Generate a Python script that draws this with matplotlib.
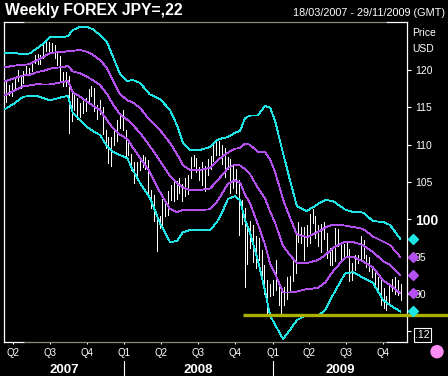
import matplotlib
matplotlib.use('Agg')
import matplotlib.pyplot as plt
import matplotlib.transforms as mtransforms
from matplotlib.patches import Ellipse
import pandas as pd

# weekly bars, one per Friday from 16/03/2007, USD/JPY high and low
bar_start = '2007-03-16'
highs = [118.4, 118.0, 118.2, 118.8, 120.0, 119.2, 119.9, 120.6, 120.3, 121.1,
         122.0, 122.2, 122.0, 123.5, 124.1, 123.8, 123.6, 123.3, 122.5, 121.9,
         119.7, 119.8, 119.2, 117.1, 116.7, 116.2, 115.6, 116.2, 116.3, 117.4,
         117.9, 117.6, 115.3, 116.0, 115.0, 112.0, 111.0, 111.0, 112.1, 113.3,
         114.2, 114.7,
         112.0, 110.4, 108.8, 107.7, 107.7, 108.4, 108.6, 108.3, 107.9, 104.0,
         103.3, 100.0, 100.4, 102.8, 102.6, 103.8, 104.6, 105.3, 105.2, 105.5,
         104.7, 105.6, 106.0, 108.3, 108.6, 108.2, 107.0, 107.7, 107.1, 108.1,
         108.5, 110.4, 110.7, 110.5, 110.0, 109.6, 108.3, 108.1, 107.1, 106.8,
         105.3, 102.6, 101.5, 99.5, 99.8, 99.2, 97.8, 97.5, 95.9, 93.9,
         91.9, 91.3,
         91.9, 94.6, 91.5, 90.5, 90.9, 92.3, 92.4, 94.6, 97.9, 99.7,
         99.0, 99.0, 99.3, 100.7, 101.4, 100.4, 99.2, 99.4, 99.6, 98.2,
         96.2, 96.2, 98.9, 98.7, 96.7, 96.7, 97.0, 96.0, 94.2, 95.2,
         95.3, 97.8, 97.3, 95.2, 95.0, 93.4, 93.0, 92.3, 91.9, 90.8,
         89.8, 91.2, 92.0, 92.3, 91.9, 91.3]
lows = [115.7, 116.6, 116.5, 117.4, 118.5, 117.6, 118.3, 119.4, 119.4, 119.9,
        120.9, 120.8, 120.8, 121.6, 122.6, 122.2, 122.3, 121.6, 120.7, 118.4,
        117.9, 117.8, 111.6, 113.2, 114.6, 113.4, 113.7, 114.2, 114.5, 115.5,
        116.5, 114.5, 113.5, 114.1, 111.5, 109.5, 107.6, 107.2, 110.0, 110.5,
        112.2, 112.0,
        108.5, 108.6, 106.6, 104.9, 105.6, 106.6, 107.0, 106.8, 103.6, 101.5,
        99.8, 95.8, 98.9, 99.3, 100.5, 100.6, 102.6, 102.5, 102.7, 103.5,
        102.5, 103.1, 103.4, 105.5, 107.1, 106.3, 105.3, 104.6, 103.8, 105.9,
        106.7, 107.8, 108.6, 108.6, 107.4, 105.7, 106.8, 103.5, 104.2, 103.6,
        97.9, 99.4, 90.9, 94.0, 96.2, 94.3, 93.5, 94.6, 92.2, 90.0,
        87.1, 89.7,
        89.9, 90.6, 88.6, 87.1, 88.5, 89.3, 90.3, 91.7, 92.8, 97.0,
        96.9, 94.6, 96.5, 96.8, 99.5, 97.5, 96.5, 95.6, 97.4, 94.8,
        93.9, 93.9, 94.5, 96.5, 94.5, 94.8, 95.1, 91.8, 91.9, 93.2,
        94.1, 94.4, 94.8, 93.6, 93.1, 92.3, 91.4, 90.2, 88.6, 88.2,
        87.9, 88.8, 90.4, 90.0, 89.9, 89.2]

# bands: 20-week average and one standard deviation
band_dates = ['2007-03-12', '2007-04-06', '2007-04-26', '2007-05-13', '2007-05-30',
              '2007-06-14', '2007-07-01', '2007-07-19', '2007-08-03', '2007-08-15',
              '2007-08-27', '2007-09-14', '2007-10-01', '2007-10-16', '2007-11-02',
              '2007-11-19', '2007-12-04', '2007-12-21', '2008-01-08', '2008-01-22',
              '2008-02-09', '2008-03-04', '2008-03-29', '2008-04-23', '2008-05-10',
              '2008-05-25', '2008-06-11', '2008-07-06', '2008-07-31', '2008-08-17',
              '2008-09-01', '2008-09-13', '2008-09-30', '2008-10-13', '2008-10-25',
              '2008-11-06', '2008-11-26', '2008-12-13', '2008-12-26', '2009-01-07',
              '2009-01-27', '2009-02-13', '2009-03-02', '2009-03-27', '2009-04-23',
              '2009-05-11', '2009-05-30', '2009-06-29', '2009-07-19', '2009-08-12',
              '2009-09-06', '2009-10-01', '2009-10-18', '2009-11-12']
band_mid = [118.49, 118.93, 119.26, 119.37, 119.71, 119.87, 120.17, 120.32, 120.40, 120.54,
            119.80, 119.56, 119.09, 118.63, 117.99, 116.81, 115.41, 114.08, 113.37, 112.64,
            111.57, 109.83, 107.82, 105.81, 104.87, 104.27, 103.94, 103.94, 104.14, 105.14,
            106.08, 106.88, 107.35, 107.22, 106.75, 106.10, 104.20, 102.87, 101.06, 99.59,
            96.44, 95.23, 94.16, 94.16, 94.56, 95.23, 96.17, 97.04, 96.97, 96.57,
            95.64, 94.43, 93.90, 92.56]
band_dev = [1.87, 1.67, 1.42, 1.43, 1.59, 1.81, 2.10, 2.07, 1.99, 2.01,
            2.78, 3.12, 3.35, 3.40, 3.35, 3.48, 3.19, 2.73, 2.58, 3.01,
            3.35, 3.45, 4.15, 4.42, 3.88, 2.99, 2.68, 2.68, 2.78, 2.74,
            2.41, 2.07, 2.12, 2.32, 3.41, 3.90, 4.86, 6.16, 6.96, 6.83,
            6.22, 5.02, 3.82, 3.48, 3.75, 3.68, 3.15, 2.14, 2.01, 2.18,
            2.07, 2.61, 2.68, 2.44]

support_level = 87.2
support_from = '2008-10-20'

quarter_dates = ['2007-04-01', '2007-07-01', '2007-10-01', '2008-01-01', '2008-04-01',
                 '2008-07-01', '2008-10-01', '2009-01-01', '2009-04-01', '2009-07-01',
                 '2009-10-01']
quarter_labels = ['Q2', 'Q3', 'Q4', 'Q1', 'Q2', 'Q3', 'Q4', 'Q1', 'Q2', 'Q3', 'Q4']
years = ['2007', '2008', '2009']
year_edges = ['2007-03-10', '2008-01-01', '2009-01-01', '2009-11-29']

price_ticks = [85, 90, 95, 100, 105, 110, 115, 120]
price_labels = ['', '90', '95', '100', '105', '110', '115', '120']

CYAN = '#1ee6e6'
MAGENTA = '#b450f0'
FONT = ['Liberation Sans', 'DejaVu Sans']

plt.rcParams['font.family'] = FONT

fig = plt.figure(figsize=(4.48, 3.76), dpi=100, facecolor='black')
W, H = 448, 376
ax = fig.add_axes([4 / W, 1 - 342 / H, 403 / W, 320 / H])
ax.set_facecolor('black')

bar_dates = pd.date_range(bar_start, periods=len(highs), freq='7D')
bdates = pd.to_datetime(band_dates)
mid = pd.Series(band_mid)
dev = pd.Series(band_dev)

# price bars
ax.vlines(bar_dates, lows, highs, colors='white', lw=0.55, antialiased=False, zorder=2)

# bands
ytrans = mtransforms.blended_transform_factory(ax.transAxes, ax.transData)
for k, col in [(2, CYAN), (1, MAGENTA), (0, MAGENTA), (-1, MAGENTA), (-2, CYAN)]:
    ax.plot(bdates, mid + k * dev, color=col, lw=0.6, antialiased=False, zorder=3)
    ax.plot([1.015], [band_mid[-1] + k * band_dev[-1]], marker='D', ms=5, color=col,
            mec=col, transform=ytrans, clip_on=False, zorder=5)

ax.set_xlim(pd.Timestamp(year_edges[0]), pd.Timestamp(year_edges[-1]))
ax.set_ylim(83.59, 126.43)

# support line running out past the right edge
x0 = ax.transAxes.inverted().transform(ax.transData.transform(
    (matplotlib.dates.date2num(pd.Timestamp(support_from)), support_level)))[0]
ax.plot([x0, 1.102], [support_level, support_level], color='#aab000', lw=2.4,
        transform=ytrans, clip_on=False, solid_capstyle='butt', zorder=4)

# frame
for s in ['top', 'bottom']:
    ax.spines[s].set_visible(False)
for s in ['left', 'right']:
    ax.spines[s].set_color('white')
    ax.spines[s].set_linewidth(0.9)
for yy in [0, 1]:
    ax.plot([0, 20 / 403], [yy, yy], color='white', lw=0.9, transform=ax.transAxes, clip_on=False)
    ax.plot([20 / 403, 383 / 403], [yy, yy], color='#8c8c80', lw=0.9, transform=ax.transAxes, clip_on=False)
    ax.plot([383 / 403, 1], [yy, yy], color='white', lw=0.9, transform=ax.transAxes, clip_on=False)

# price axis on the right
ax.yaxis.tick_right()
ax.set_yticks(price_ticks)
ax.set_yticklabels(price_labels)
ax.tick_params(axis='y', colors='white', length=3.2, width=0.8, pad=2.4, labelsize=7.5)
for lab in ax.get_yticklabels():
    lab.set_color('white')
    if lab.get_text() == '100':
        lab.set_fontweight('bold')
        lab.set_fontsize(10)

# quarter axis
ax.set_xticks(pd.to_datetime(quarter_dates))
ax.set_xticklabels(quarter_labels)
ax.tick_params(axis='x', colors='white', length=1.6, width=0.8, pad=3, labelsize=7)

tx = mtransforms.blended_transform_factory(ax.transData, ax.transAxes)
edges = pd.to_datetime(year_edges)
for i, yr in enumerate(years):
    c = edges[i] + (edges[i + 1] - edges[i]) / 2
    ax.text(c, -0.097, yr, transform=tx, ha='center', va='baseline', color='white',
            fontsize=9.5, fontweight='bold')
for e in edges[1:-1]:
    ax.plot([e, e], [-0.059, -0.11], color='white', lw=0.8, transform=tx, clip_on=False)

# header texts
fig.text(5 / W, 1 - 15 / H, 'Weekly FOREX JPY=,22', color='white', fontsize=11.3,
         fontweight='bold', ha='left', va='baseline')
fig.text(445 / W, 1 - 16.5 / H, '18/03/2007 - 29/11/2009 (GMT)', color='white',
         fontsize=7.8, ha='right', va='baseline')
fig.text(412 / W, 1 - 36 / H, 'Price', color='white', fontsize=7.5, ha='left', va='baseline')
fig.text(412 / W, 1 - 52 / H, 'USD', color='white', fontsize=7.5, ha='left', va='baseline')

fig.text(422.5 / W, 1 - 335 / H, '.12', color='white', fontsize=7.5, ha='center', va='center',
         bbox=dict(boxstyle='square,pad=0.15', fc='black', ec='white', lw=0.8))

fig.add_artist(Ellipse((437 / W, 1 - 351.7 / H), 12 / W, 12 / H, transform=fig.transFigure,
                       color='#ff8cf5'))

fig.savefig('out.png', dpi=100, facecolor='black')
